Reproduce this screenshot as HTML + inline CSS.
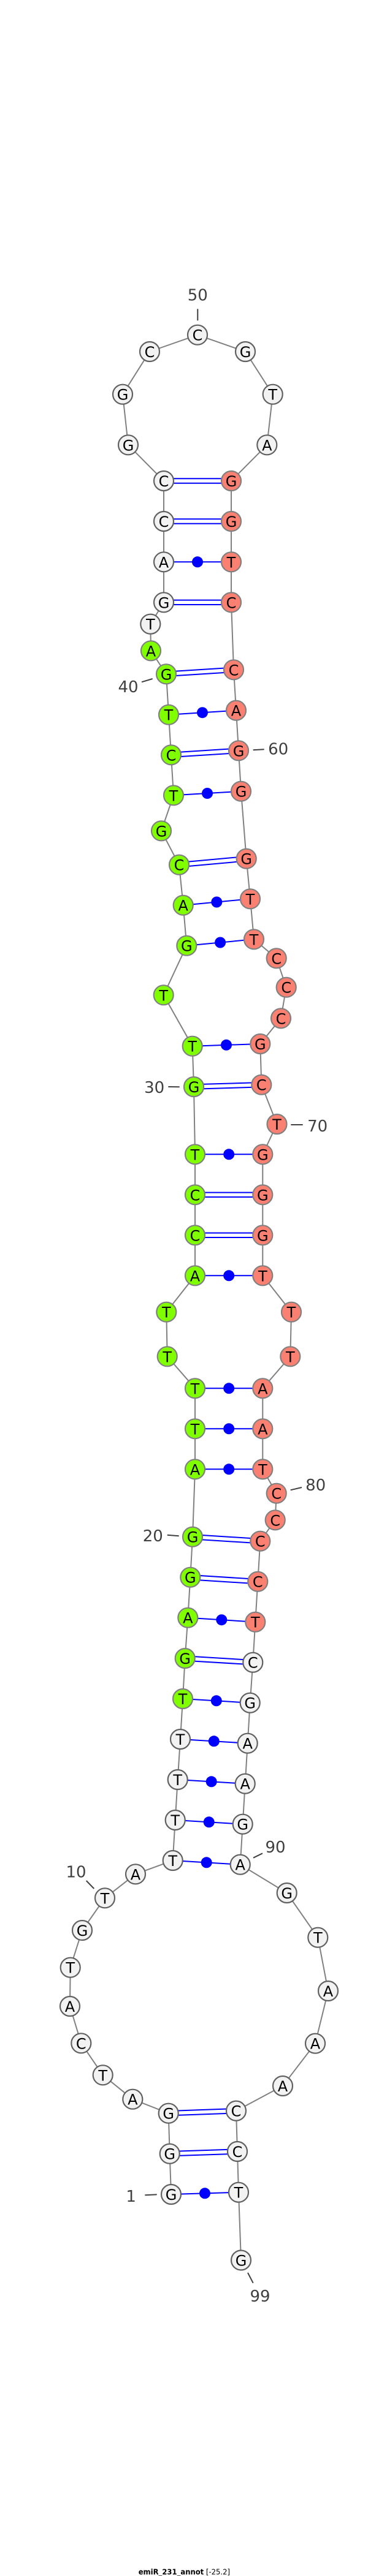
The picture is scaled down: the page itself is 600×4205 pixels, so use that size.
<!DOCTYPE html>
<html>
<head>
<meta charset="utf-8">
<title>emiR_231_annot</title>
<style>
html,body{margin:0;padding:0;background:#fff}
svg{display:block}
.n{stroke-width:2.2}
.w{fill:#f2f2f2;stroke:#606060}
.g{fill:#7fff00;stroke:#808080}
.r{fill:#fa8072;stroke:#808080}
text{font-family:"DejaVu Sans",sans-serif}
.b text{font-size:24px;fill:#000;text-anchor:middle}
.l text{font-size:26px;fill:#404040;text-anchor:middle}
.t{stroke:#404040;stroke-width:2;fill:none}
</style>
</head>
<body>
<svg width="600" height="4205" viewBox="0 0 600 4205" xmlns="http://www.w3.org/2000/svg">
<rect width="600" height="4205" fill="#fff"/>
<polyline fill="none" stroke="#808080" stroke-width="2" points="279,3582 276.7,3515.7 274.7,3449.7 216.3,3426.7 167.7,3387.3 132.3,3335.3 114,3275 114.7,3211.7 134,3151 171,3098.3 221,3059.3 281.7,3037 285.7,2971 289.7,2905 294,2839 298,2773 301.7,2707 306.3,2640.7 310.3,2574.7 314,2508.7 318,2398.3 318,2332.3 318,2266.3 272.7,2214.3 271.3,2141.7 318,2082.3 318,2016.3 318,1950.3 318,1884.3 316,1774 313.7,1707.7 266.7,1624.3 304.3,1543.7 298.7,1477.7 292,1411.7 263,1356.3 283,1298.3 279,1232.3 275,1166.7 271,1100.3 246,1062.3 245.3,1018.7 267,983.3 267,917.3 267,851 267,785 209,726.3 200,643.7 244,574 322,546.7 400,574 444.7,643.7 435.3,726.3 377,785 377,851 377,917.3 377,983.3 381,1093.3 385,1159.7 389,1225.3 393,1291.7 401.7,1401.7 408,1467.3 414,1533.3 450.7,1564.3 466.7,1611.7 458,1662.3 424.3,1704 426.3,1770.7 451.5,1835 428.3,1884.3 428.3,1950.3 428.3,2016.3 428.3,2082.3 475,2141.7 473.3,2214.3 428.3,2266.3 428.3,2332.3 428.3,2398.3 450.7,2437.7 448.7,2481.3 424.3,2515.7 420.3,2581.7 416.3,2647.7 412.3,2713.7 407.7,2779.7 403.7,2845.7 399.7,2911.7 395.7,2977.7 391.7,3043.7 467.7,3090 518.3,3162.7 535,3250 514,3335.7 461,3405 385,3445.7 387,3512 389,3578.7 393,3689.5"/>
<path fill="none" stroke="#0000ff" stroke-width="2" d="M276.7 3512L387 3508.3M276.7 3519.4L387 3515.7M274.7 3446L385 3442M274.7 3453.4L385 3449.4M301.7 2703.3L412.3 2710M301.7 2710.7L412.3 2717.4M310.3 2571L420.3 2578M310.3 2578.4L420.3 2585.4M314 2505L424.3 2512M314 2512.4L424.3 2519.4M318 2012.6L428.3 2012.6M318 2020L428.3 2020M318 1946.6L428.3 1946.6M318 1954L428.3 1954M316 1770.3L426.3 1767M316 1777.7L426.3 1774.4M292 1408L401.7 1398M292 1415.4L401.7 1405.4M279 1228.6L389 1221.6M279 1236L389 1229M271 1096.6L381 1089.6M271 1104L381 1097M267 979.6L377 979.6M267 987L377 987M267 847.3L377 847.3M267 854.7L377 854.7M267 781.3L377 781.3M267 788.7L377 788.7M279 3582L389 3578.7M281.7 3037L391.7 3043.7M285.7 2971L395.7 2977.7M289.7 2905L399.7 2911.7M294 2839L403.7 2845.7M298 2773L407.7 2779.7M306.3 2640.7L416.3 2647.7M318 2398.3L428.3 2398.3M318 2332.3L428.3 2332.3M318 2266.3L428.3 2266.3M318 2082.3L428.3 2082.3M318 1884.3L428.3 1884.3M313.7 1707.7L424.3 1704M304.3 1543.7L414 1533.3M298.7 1477.7L408 1467.3M283 1298.3L393 1291.7M275 1166.7L385 1159.7M267 917.3L377 917.3"/>
<g fill="#0000ff">
<circle cx="334" cy="3580.3" r="9"/><circle cx="336.7" cy="3040.3" r="9"/><circle cx="340.7" cy="2974.3" r="9"/><circle cx="344.7" cy="2908.3" r="9"/><circle cx="348.8" cy="2842.3" r="9"/><circle cx="352.8" cy="2776.3" r="9"/><circle cx="361.3" cy="2644.2" r="9"/><circle cx="373.2" cy="2398.3" r="9"/><circle cx="373.2" cy="2332.3" r="9"/><circle cx="373.2" cy="2266.3" r="9"/><circle cx="373.2" cy="2082.3" r="9"/><circle cx="373.2" cy="1884.3" r="9"/><circle cx="369" cy="1705.8" r="9"/><circle cx="359.1" cy="1538.5" r="9"/><circle cx="353.3" cy="1472.5" r="9"/><circle cx="338" cy="1295" r="9"/><circle cx="330" cy="1163.2" r="9"/><circle cx="322" cy="917.3" r="9"/>
</g>
<g class="n">
<circle class="w" cx="279" cy="3582" r="16"/><circle class="w" cx="276.7" cy="3515.7" r="16"/><circle class="w" cx="274.7" cy="3449.7" r="16"/><circle class="w" cx="216.3" cy="3426.7" r="16"/><circle class="w" cx="167.7" cy="3387.3" r="16"/><circle class="w" cx="132.3" cy="3335.3" r="16"/><circle class="w" cx="114" cy="3275" r="16"/><circle class="w" cx="114.7" cy="3211.7" r="16"/><circle class="w" cx="134" cy="3151" r="16"/><circle class="w" cx="171" cy="3098.3" r="16"/><circle class="w" cx="221" cy="3059.3" r="16"/><circle class="w" cx="281.7" cy="3037" r="16"/><circle class="w" cx="285.7" cy="2971" r="16"/><circle class="w" cx="289.7" cy="2905" r="16"/><circle class="w" cx="294" cy="2839" r="16"/>
<circle class="g" cx="298" cy="2773" r="16"/><circle class="g" cx="301.7" cy="2707" r="16"/><circle class="g" cx="306.3" cy="2640.7" r="16"/><circle class="g" cx="310.3" cy="2574.7" r="16"/><circle class="g" cx="314" cy="2508.7" r="16"/><circle class="g" cx="318" cy="2398.3" r="16"/><circle class="g" cx="318" cy="2332.3" r="16"/><circle class="g" cx="318" cy="2266.3" r="16"/><circle class="g" cx="272.7" cy="2214.3" r="16"/><circle class="g" cx="271.3" cy="2141.7" r="16"/><circle class="g" cx="318" cy="2082.3" r="16"/><circle class="g" cx="318" cy="2016.3" r="16"/><circle class="g" cx="318" cy="1950.3" r="16"/><circle class="g" cx="318" cy="1884.3" r="16"/><circle class="g" cx="316" cy="1774" r="16"/><circle class="g" cx="313.7" cy="1707.7" r="16"/><circle class="g" cx="266.7" cy="1624.3" r="16"/><circle class="g" cx="304.3" cy="1543.7" r="16"/><circle class="g" cx="298.7" cy="1477.7" r="16"/><circle class="g" cx="292" cy="1411.7" r="16"/><circle class="g" cx="263" cy="1356.3" r="16"/><circle class="g" cx="283" cy="1298.3" r="16"/><circle class="g" cx="279" cy="1232.3" r="16"/><circle class="g" cx="275" cy="1166.7" r="16"/><circle class="g" cx="271" cy="1100.3" r="16"/><circle class="g" cx="246" cy="1062.3" r="16"/>
<circle class="w" cx="245.3" cy="1018.7" r="16"/><circle class="w" cx="267" cy="983.3" r="16"/><circle class="w" cx="267" cy="917.3" r="16"/><circle class="w" cx="267" cy="851" r="16"/><circle class="w" cx="267" cy="785" r="16"/><circle class="w" cx="209" cy="726.3" r="16"/><circle class="w" cx="200" cy="643.7" r="16"/><circle class="w" cx="244" cy="574" r="16"/><circle class="w" cx="322" cy="546.7" r="16"/><circle class="w" cx="400" cy="574" r="16"/><circle class="w" cx="444.7" cy="643.7" r="16"/><circle class="w" cx="435.3" cy="726.3" r="16"/>
<circle class="r" cx="377" cy="785" r="16"/><circle class="r" cx="377" cy="851" r="16"/><circle class="r" cx="377" cy="917.3" r="16"/><circle class="r" cx="377" cy="983.3" r="16"/><circle class="r" cx="381" cy="1093.3" r="16"/><circle class="r" cx="385" cy="1159.7" r="16"/><circle class="r" cx="389" cy="1225.3" r="16"/><circle class="r" cx="393" cy="1291.7" r="16"/><circle class="r" cx="401.7" cy="1401.7" r="16"/><circle class="r" cx="408" cy="1467.3" r="16"/><circle class="r" cx="414" cy="1533.3" r="16"/><circle class="r" cx="450.7" cy="1564.3" r="16"/><circle class="r" cx="466.7" cy="1611.7" r="16"/><circle class="r" cx="458" cy="1662.3" r="16"/><circle class="r" cx="424.3" cy="1704" r="16"/><circle class="r" cx="426.3" cy="1770.7" r="16"/><circle class="r" cx="451.5" cy="1835" r="16"/><circle class="r" cx="428.3" cy="1884.3" r="16"/><circle class="r" cx="428.3" cy="1950.3" r="16"/><circle class="r" cx="428.3" cy="2016.3" r="16"/><circle class="r" cx="428.3" cy="2082.3" r="16"/><circle class="r" cx="475" cy="2141.7" r="16"/><circle class="r" cx="473.3" cy="2214.3" r="16"/><circle class="r" cx="428.3" cy="2266.3" r="16"/><circle class="r" cx="428.3" cy="2332.3" r="16"/><circle class="r" cx="428.3" cy="2398.3" r="16"/><circle class="r" cx="450.7" cy="2437.7" r="16"/><circle class="r" cx="448.7" cy="2481.3" r="16"/><circle class="r" cx="424.3" cy="2515.7" r="16"/><circle class="r" cx="420.3" cy="2581.7" r="16"/><circle class="r" cx="416.3" cy="2647.7" r="16"/>
<circle class="w" cx="412.3" cy="2713.7" r="16"/><circle class="w" cx="407.7" cy="2779.7" r="16"/><circle class="w" cx="403.7" cy="2845.7" r="16"/><circle class="w" cx="399.7" cy="2911.7" r="16"/><circle class="w" cx="395.7" cy="2977.7" r="16"/><circle class="w" cx="391.7" cy="3043.7" r="16"/><circle class="w" cx="467.7" cy="3090" r="16"/><circle class="w" cx="518.3" cy="3162.7" r="16"/><circle class="w" cx="535" cy="3250" r="16"/><circle class="w" cx="514" cy="3335.7" r="16"/><circle class="w" cx="461" cy="3405" r="16"/><circle class="w" cx="385" cy="3445.7" r="16"/><circle class="w" cx="387" cy="3512" r="16"/><circle class="w" cx="389" cy="3578.7" r="16"/><circle class="w" cx="393" cy="3689.5" r="16"/>
</g>
<g class="b">
<text x="279" y="3591">G</text><text x="276.7" y="3524.7">G</text><text x="274.7" y="3458.7">G</text><text x="216.3" y="3435.7">A</text><text x="167.7" y="3396.3">T</text><text x="132.3" y="3344.3">C</text><text x="114" y="3284">A</text><text x="114.7" y="3220.7">T</text><text x="134" y="3160">G</text><text x="171" y="3107.3">T</text><text x="221" y="3068.3">A</text><text x="281.7" y="3046">T</text><text x="285.7" y="2980">T</text><text x="289.7" y="2914">T</text><text x="294" y="2848">T</text><text x="298" y="2782">T</text><text x="301.7" y="2716">G</text><text x="306.3" y="2649.7">A</text><text x="310.3" y="2583.7">G</text><text x="314" y="2517.7">G</text><text x="318" y="2407.3">A</text><text x="318" y="2341.3">T</text><text x="318" y="2275.3">T</text><text x="272.7" y="2223.3">T</text><text x="271.3" y="2150.7">T</text><text x="318" y="2091.3">A</text><text x="318" y="2025.3">C</text><text x="318" y="1959.3">C</text><text x="318" y="1893.3">T</text><text x="316" y="1783">G</text><text x="313.7" y="1716.7">T</text><text x="266.7" y="1633.3">T</text><text x="304.3" y="1552.7">G</text><text x="298.7" y="1486.7">A</text><text x="292" y="1420.7">C</text><text x="263" y="1365.3">G</text><text x="283" y="1307.3">T</text><text x="279" y="1241.3">C</text><text x="275" y="1175.7">T</text><text x="271" y="1109.3">G</text><text x="246" y="1071.3">A</text><text x="245.3" y="1027.7">T</text><text x="267" y="992.3">G</text><text x="267" y="926.3">A</text><text x="267" y="860">C</text><text x="267" y="794">C</text><text x="209" y="735.3">G</text><text x="200" y="652.7">G</text><text x="244" y="583">C</text><text x="322" y="555.7">C</text><text x="400" y="583">G</text><text x="444.7" y="652.7">T</text><text x="435.3" y="735.3">A</text><text x="377" y="794">G</text><text x="377" y="860">G</text><text x="377" y="926.3">T</text><text x="377" y="992.3">C</text><text x="381" y="1102.3">C</text><text x="385" y="1168.7">A</text><text x="389" y="1234.3">G</text><text x="393" y="1300.7">G</text><text x="401.7" y="1410.7">G</text><text x="408" y="1476.3">T</text><text x="414" y="1542.3">T</text><text x="450.7" y="1573.3">C</text><text x="466.7" y="1620.7">C</text><text x="458" y="1671.3">C</text><text x="424.3" y="1713">G</text><text x="426.3" y="1779.7">C</text><text x="451.5" y="1844">T</text><text x="428.3" y="1893.3">G</text><text x="428.3" y="1959.3">G</text><text x="428.3" y="2025.3">G</text><text x="428.3" y="2091.3">T</text><text x="475" y="2150.7">T</text><text x="473.3" y="2223.3">T</text><text x="428.3" y="2275.3">A</text><text x="428.3" y="2341.3">A</text><text x="428.3" y="2407.3">T</text><text x="450.7" y="2446.7">C</text><text x="448.7" y="2490.3">C</text><text x="424.3" y="2524.7">C</text><text x="420.3" y="2590.7">C</text><text x="416.3" y="2656.7">T</text><text x="412.3" y="2722.7">C</text><text x="407.7" y="2788.7">G</text><text x="403.7" y="2854.7">A</text><text x="399.7" y="2920.7">A</text><text x="395.7" y="2986.7">G</text><text x="391.7" y="3052.7">A</text><text x="467.7" y="3099">G</text><text x="518.3" y="3171.7">T</text><text x="535" y="3259">A</text><text x="514" y="3344.7">A</text><text x="461" y="3414">A</text><text x="385" y="3454.7">C</text><text x="387" y="3521">C</text><text x="389" y="3587.7">T</text><text x="393" y="3698.5">G</text>
</g>
<path class="t" d="M322.3 504.3V523.3M231 1113.3L248.7 1108M412.7 1224.3L430.7 1223.3M274.3 1774L292.7 1774.3M474.3 1836H493.7M473.7 2432.3L492 2428M272.7 2505.7L291.7 2507.3M413 3032.7L428 3025.3M140.7 3070L153.3 3083M236.3 3583.3L255.7 3582.3M404 3710L412.7 3726.7"/>
<g class="l">
<text x="322.3" y="490.5">50</text><text x="209" y="1130">40</text><text x="453.7" y="1231.5">60</text><text x="251.7" y="1784">30</text><text x="517.7" y="1847">70</text><text x="514.7" y="2432.8">80</text><text x="249.3" y="2516">20</text><text x="449" y="3024">90</text><text x="124" y="3064.5">10</text><text x="213.7" y="3594">1</text><text x="424" y="3757">99</text>
</g>
<text x="225.7" y="4202.5" font-size="12" textLength="149.3" lengthAdjust="spacingAndGlyphs" fill="#000"><tspan font-weight="bold">emiR_231_annot</tspan> [-25.2]</text>
</svg>
</body>
</html>
